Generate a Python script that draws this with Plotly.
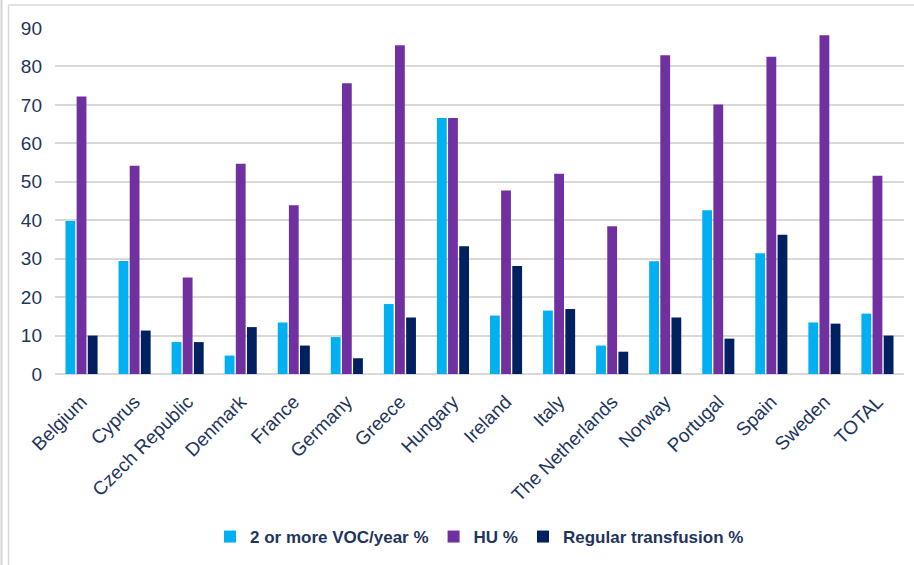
import plotly.graph_objects as go

countries = ["Belgium", "Cyprus", "Czech Republic", "Denmark", "France", "Germany",
             "Greece", "Hungary", "Ireland", "Italy", "The Netherlands", "Norway",
             "Portugal", "Spain", "Sweden", "TOTAL"]
voc = [39.8, 29.4, 8.3, 4.8, 13.4, 9.6, 18.2, 66.6, 15.2, 16.5, 7.4, 29.3, 42.6, 31.4, 13.4, 15.7]
hu = [72.2, 54.2, 25.1, 54.7, 43.9, 75.6, 85.5, 66.6, 47.7, 52.1, 38.4, 82.9, 70.1, 82.5, 88.1, 51.6]
transfusion = [10.0, 11.3, 8.3, 12.2, 7.4, 4.1, 14.7, 33.2, 28.1, 16.9, 5.8, 14.7, 9.2, 36.2, 13.1, 10.0]
y_ticks = [0, 10, 20, 30, 40, 50, 60, 70, 80, 90]

W, H = 914, 565
ML, MR, MT, MB = 55, 10, 28, 191
TEXT = "#1F3560"
FONT = "Liberation Sans, Arial, sans-serif"

fig = go.Figure()
for name, vals, col in [("2 or more VOC/year %", voc, "#00B0F0"),
                        ("HU %", hu, "#7030A0"),
                        ("Regular transfusion %", transfusion, "#002060")]:
    fig.add_trace(go.Bar(x=countries, y=vals, name=name,
                         marker=dict(color=col, line=dict(width=0))))

pw = W - ML - MR
ph = H - MT - MB
def px_x(p):
    return (p - ML) / pw
def px_y(p):
    return (H - MB - p) / ph

# outer frame lines
shapes = [
    dict(type="line", xref="paper", yref="paper", x0=px_x(1.5), x1=px_x(1.5),
         y0=px_y(0), y1=px_y(H), line=dict(color="#d4d4d4", width=2)),
    dict(type="line", xref="paper", yref="paper", x0=px_x(8.5), x1=px_x(8.5),
         y0=px_y(5), y1=px_y(H), line=dict(color="#d9d9d9", width=1.5)),
    dict(type="line", xref="paper", yref="paper", x0=px_x(8.5), x1=px_x(W),
         y0=px_y(5), y1=px_y(5), line=dict(color="#d9d9d9", width=1.5)),
]

fig.update_layout(
    width=W, height=H,
    margin=dict(l=ML, r=MR, t=MT, b=MB),
    paper_bgcolor="white", plot_bgcolor="white",
    barmode="group", bargap=0.37, bargroupgap=0.12,
    font=dict(family=FONT, color=TEXT, size=19),
    shapes=shapes,
    showlegend=True,
    legend=dict(orientation="h", x=0.5, xanchor="center", xref="paper",
                y=px_y(537), yanchor="middle",
                font=dict(family=FONT, size=17, color=TEXT, weight="bold"),
                itemwidth=30, traceorder="normal"),
    xaxis=dict(tickangle=-45, showgrid=False, showline=False, ticks="",
               ticklabelstandoff=12,
               tickfont=dict(size=19, color=TEXT)),
    yaxis=dict(range=[0, 90], tickvals=y_ticks, showgrid=True, gridcolor="#d9d9d9",
               gridwidth=1.5, zeroline=True, zerolinecolor="#d9d9d9", zerolinewidth=1.5,
               showline=False, ticks="", ticklabelstandoff=12,
               tickfont=dict(size=19, color=TEXT)),
)

fig.write_html("out.html")
